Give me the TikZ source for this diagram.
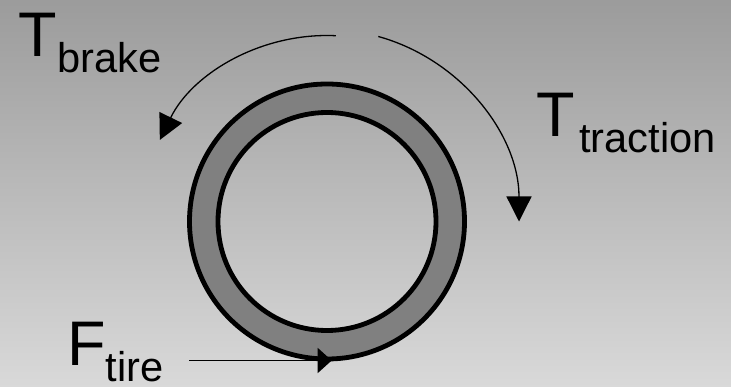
\documentclass[tikz,border=0pt]{standalone}
\usepackage{fontspec}
\setmainfont{Liberation Sans}
\usepackage{xcolor}
\usepackage{tikz}
\usetikzlibrary{arrows.meta}

\definecolor{bgtop}{gray}{0.61}
\definecolor{bgbot}{gray}{0.85}
\definecolor{tread}{gray}{0.5}

\newcommand{\symsub}[3][0pt]{{\fontsize{63}{63}\selectfont #2}\kern#1\raisebox{-16pt}{\fontsize{41.6}{42}\selectfont #3}}

\begin{document}
\begin{tikzpicture}[
  x=1pt, y=1pt,
  lbl/.style={anchor=base west, inner sep=0pt},
  rim/.style={draw, line width=4.8pt},
  torq/.style={line width=1.3pt, -{Triangle[length=25pt, width=25pt]}},
  force/.style={line width=1.3pt, -{Triangle[length=14pt, width=25pt]}}
]
% ── background ─────────────────────────────────
\useasboundingbox (0,0) rectangle (731,386);
\shade[top color=bgtop, bottom color=bgbot] (0,0) rectangle (731,386);
% ── tire ───────────────────────────────────────
\coordinate (c) at (327,164.5);
\fill[tread, even odd rule] (c) circle[radius=137.5] (c) circle[radius=109];
\draw[rim] (c) circle[radius=137.5];
\draw[rim] (c) circle[radius=109];
% ── torques ────────────────────────────────────
\coordinate (bs) at ([shift={(87.3:186)}]c);
\coordinate (ts) at ([shift={(74.5:192)}]c);
\draw[torq] (bs) arc[start angle=87.3, end angle=154, radius=186];
\draw[torq] (ts) arc[start angle=74.5, end angle=0, radius=192];
\node[lbl] (Tb) at (18.5,329) {\symsub{T}{brake}};
\node[lbl] (Tt) at (536.5,249) {\symsub[4pt]{T}{traction}};
% ── tire force ─────────────────────────────────
\coordinate (fs) at (189,25.5);
\coordinate (fe) at (331.7,25.5);
\draw[force] (fs) -- (fe);
\node[lbl] (Ft) at (67,21) {\symsub{F}{tire}};
\end{tikzpicture}
\end{document}
